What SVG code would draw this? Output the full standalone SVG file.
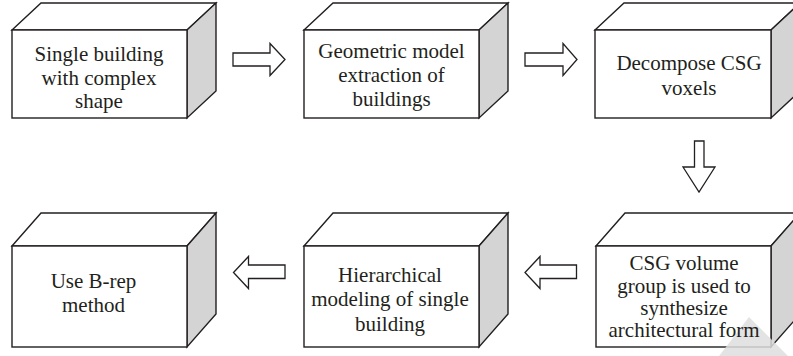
<svg xmlns="http://www.w3.org/2000/svg" width="793" height="356" viewBox="0 0 793 356" font-family="'Liberation Serif', 'Times New Roman', serif">
<style>
.face{fill:#ffffff;stroke:#231f20;stroke-width:1.4;stroke-linejoin:miter}
.side{fill:#d4d4d4;stroke:#231f20;stroke-width:1.4}
.arr{fill:#ffffff;stroke:#231f20;stroke-width:1.3}
.t{font-family:'Liberation Serif','Times New Roman',serif;font-weight:normal;font-size:21px;fill:#231f20;text-anchor:middle}
</style>
<rect width="793" height="356" fill="#ffffff"/>
<g id="node1">
<polygon class="face" points="12,30 41,3 216,3 187,30"/>
<polygon class="side" points="187,30 216,3 216,91 187,118"/>
<rect class="face" x="12" y="30" width="175" height="88"/>
<text class="t" x="99" y="61">Single building</text>
<text class="t" x="99" y="84.5">with complex</text>
<text class="t" x="99" y="108">shape</text>
</g>
<g id="node2">
<polygon class="face" points="304,30 333,3 508,3 479,30"/>
<polygon class="side" points="479,30 508,3 508,91 479,118"/>
<rect class="face" x="304" y="30" width="175" height="88"/>
<text class="t" x="391.5" y="58">Geometric model</text>
<text class="t" x="391.5" y="82">extraction of</text>
<text class="t" x="391.5" y="106">buildings</text>
</g>
<g id="node3">
<polygon class="face" points="595,30 624,3 800,3 771,30"/>
<polygon class="side" points="771,30 800,3 800,91 771,118"/>
<rect class="face" x="595" y="30" width="176" height="88"/>
<text class="t" x="689" y="70">Decompose CSG</text>
<text class="t" x="689" y="95">voxels</text>
</g>
<g id="node4">
<polygon class="face" points="12,246 41,213 216,213 187,246"/>
<polygon class="side" points="187,246 216,213 216,314 187,347"/>
<rect class="face" x="12" y="246" width="175" height="101"/>
<text class="t" x="93.5" y="288">Use B-rep</text>
<text class="t" x="93.5" y="312">method</text>
</g>
<g id="node5">
<polygon class="face" points="304,246 333,213 508,213 479,246"/>
<polygon class="side" points="479,246 508,213 508,314 479,347"/>
<rect class="face" x="304" y="246" width="175" height="101"/>
<text class="t" x="390" y="281.5">Hierarchical</text>
<text class="t" x="390" y="306">modeling of single</text>
<text class="t" x="390" y="331">building</text>
</g>
<g id="node6">
<polygon class="face" points="596,246 625,213 800,213 771,246"/>
<polygon class="side" points="771,246 800,213 800,314 771,347"/>
<rect class="face" x="596" y="246" width="175" height="101"/>
<polygon points="749,317 716,360 792,360" fill="#dedede" opacity="0.85"/>
<text class="t" x="684" y="270">CSG volume</text>
<text class="t" x="684" y="293">group is used to</text>
<text class="t" x="684" y="315">synthesize</text>
<text class="t" x="684" y="337">architectural form</text>
</g>
<g id="connectors">
<polygon class="arr" points="233,53 270,53 270,43.5 285,59.5 270,75.5 270,66 233,66"/>
<polygon class="arr" points="525,53 563,53 563,43.5 577,59.5 563,75.5 563,66 525,66"/>
<polygon class="arr" points="694.5,141 704,141 704,167 715,167 699,192 683,167 694.5,167"/>
<polygon class="arr" points="576.5,265 540,265 540,256.5 525,272.5 540,288.5 540,278.5 576.5,278.5"/>
<polygon class="arr" points="285,265 248.5,265 248.5,256.5 233.5,272.5 248.5,288.5 248.5,278.5 285,278.5"/>
</g>
</svg>
